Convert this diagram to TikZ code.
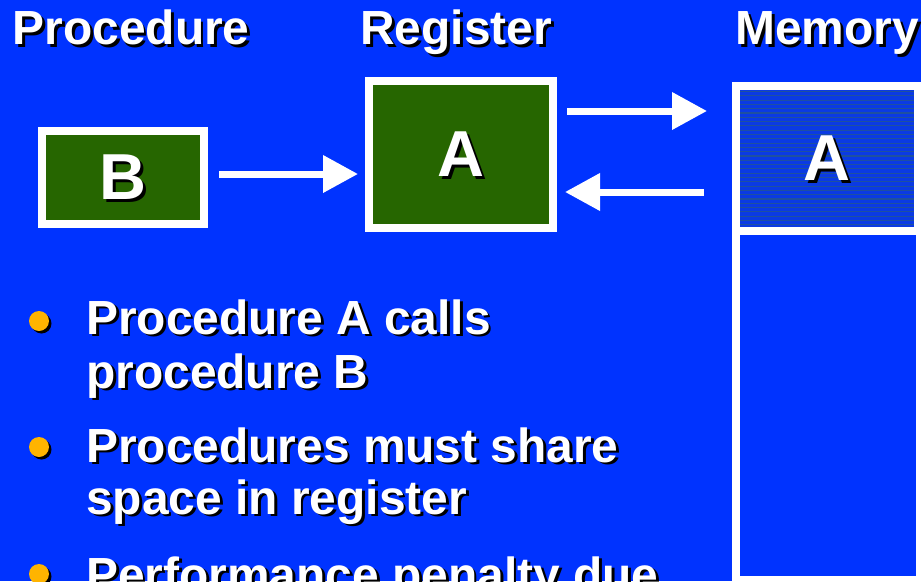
\documentclass[tikz,border=0pt]{standalone}
\usepackage{fontspec}
\setmainfont{Liberation Sans}
\usetikzlibrary{arrows.meta}
\definecolor{slideblue}{RGB}{0,51,255}
\definecolor{boxgreen}{RGB}{38,102,0}
\definecolor{bulletorange}{RGB}{255,180,0}
\definecolor{stripebase}{RGB}{10,58,228}
\definecolor{stripeline}{RGB}{30,80,160}
% text with a black drop shadow
\newcommand{\shadowtext}[4][]{%
  \node[#1, text=black] at ([shift={(2.8pt,-2.8pt)}]#3) {#4};
  \node[#1] (#2) at (#3) {#4};}

\begin{document}
\begin{tikzpicture}[x=1pt, y=-1pt,
                    box/.style={draw=white, line width=8pt, fill=boxgreen, inner sep=0},
                    lbl/.style={text=white, font=\bfseries\fontsize{47.9}{54}\selectfont,
                                inner sep=0, anchor=base west},
                    big/.style={text=white, font=\bfseries\fontsize{65}{70}\selectfont, inner sep=0},
                    arr/.style={draw=white, line width=7pt, -{Triangle[width=36pt,length=35pt]}},
                    stripe/.style={draw=stripeline, line width=1.1pt}]

\fill[slideblue] (0,0) rectangle (921,581);
\useasboundingbox (0,0) rectangle (921,581);

% column headings
\shadowtext[lbl]{hProc}{12.5,44.5}{Procedure}
\shadowtext[lbl]{hReg}{360,44.5}{Register}
\shadowtext[lbl]{hMem}{735,44.5}{Memory}

% boxes
\node[box, minimum width=162pt, minimum height=93pt] (boxB) at (123,177.5) {};
\node[box, minimum width=184pt, minimum height=147pt] (regA) at (461,154.5) {};
\node[box, fill=stripebase, minimum width=182pt, minimum height=145pt] (memA) at (827,158.5) {};
\node[box, fill=slideblue, minimum width=184pt, minimum height=349pt] (memRest) at (828,405.5) {};
\foreach \s in {91.5,95.8,...,226}{\draw[stripe] (740,\s) -- (914,\s);}

\shadowtext[big]{tB}{boxB}{B}
\shadowtext[big]{tRegA}{regA}{A}
\shadowtext[big]{tMemA}{memA}{A}

% arrows
\coordinate (bOut) at ([yshift=3.5pt]boxB.east);
\draw[arr, shorten <=11pt, shorten >=7pt] (bOut) -- (bOut -| regA.west);
\coordinate (regOut) at ([yshift=43.5pt]regA.east);
\draw[arr, shorten <=10pt, shorten >=25pt] (regOut) -- (regOut -| memA.west);
\coordinate (memOut) at ([yshift=-33.5pt]memA.west);
\draw[arr, shorten <=28pt, shorten >=8pt] (memOut) -- (memOut -| regA.east);

% bullets
\foreach \y in {321,447,574}{%
    \fill[black] (41.5,\y+2.5) circle (10pt);
    \fill[bulletorange] (39,\y) circle (10pt);}
\foreach \y/\txt [count=\i] in {334/Procedure A calls, 388/procedure B,
                                462/Procedures must share, 514/space in register,
                                591/Performance penalty due}{%
    \shadowtext[lbl]{line\i}{86,\y}{\txt}}
\end{tikzpicture}
\end{document}
